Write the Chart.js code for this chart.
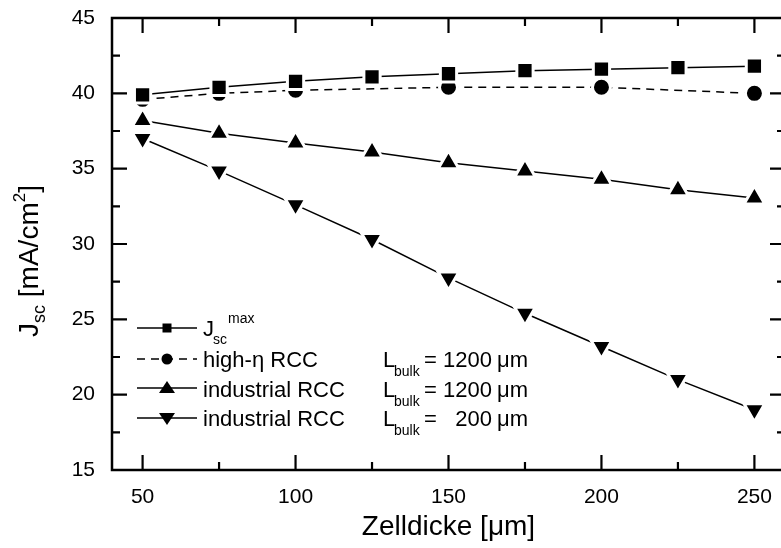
<!DOCTYPE html>
<html>
<head>
<meta charset="utf-8">
<script src="https://cdn.jsdelivr.net/npm/chart.js@4/dist/chart.umd.min.js"></script>
<style>
    html, body { margin: 0; padding: 0; background: #fff; overflow: hidden; }
    #wrap { width: 800px; height: 548px; }
</style>
</head>
<body>
<div id="wrap"><canvas id="chart" width="800" height="548"></canvas></div>
<script>
// ── Data ───────────────────────────────────────
const thickness    = [50, 75, 100, 125, 150, 175, 200, 225, 250];
const jscMax       = [39.9, 40.4, 40.8, 41.1, 41.3, 41.5, 41.6, 41.7, 41.8];
const highEtaX     = [50, 75, 100, 150, 200, 250];
const highEta      = [39.6, 40.0, 40.2, 40.4, 40.4, 40.0];
const ind1200      = [38.2, 37.35, 36.7, 36.1, 35.4, 34.85, 34.3, 33.6, 33.05];
const ind200       = [37.0, 34.85, 32.6, 30.3, 27.75, 25.4, 23.2, 21.0, 19.0];
const xTickVals    = [50, 100, 150, 200, 250];
const yTickVals    = [15, 20, 25, 30, 35, 40, 45];
const xMinorVals   = [75, 125, 175, 225];
const yMinorVals   = [17.5, 22.5, 27.5, 32.5, 37.5, 42.5];

const FONT = "'Liberation Sans', Arial, Helvetica, sans-serif";
const pts = (xs, ys) => xs.map((x, i) => ({ x, y: ys[i] }));

const base = {
    borderColor: '#000', backgroundColor: '#000', borderWidth: 1.5,
    pointBackgroundColor: '#000', pointBorderColor: '#fff', pointBorderWidth: 3,
    fill: false, tension: 0
};

// ── Frame, inward ticks, custom titles & legend ─
const framePlugin = {
    id: 'frame',
    afterDraw(chart) {
        const ctx = chart.ctx;
        const { left, right, top, bottom } = chart.chartArea;
        const xs = chart.scales.x, ys = chart.scales.y;
        ctx.save();
        ctx.strokeStyle = '#000';
        ctx.lineWidth = 2.5;
        ctx.strokeRect(left, top, right - left, bottom - top);

        ctx.lineWidth = 2.2;
        ctx.beginPath();
        const xt = (v, len) => {
            const p = xs.getPixelForValue(v);
            ctx.moveTo(p, bottom); ctx.lineTo(p, bottom - len);
            ctx.moveTo(p, top);    ctx.lineTo(p, top + len);
        };
        const yt = (v, len) => {
            const p = ys.getPixelForValue(v);
            ctx.moveTo(left, p);  ctx.lineTo(left + len, p);
            ctx.moveTo(right, p); ctx.lineTo(right - len, p);
        };
        xTickVals.forEach(v => xt(v, 15));
        xMinorVals.forEach(v => xt(v, 8));
        yTickVals.forEach(v => yt(v, 15));
        yMinorVals.forEach(v => yt(v, 8));
        ctx.stroke();

        // y title: J_sc [mA/cm^2]
        ctx.fillStyle = '#000';
        ctx.translate(38, 261);
        ctx.rotate(-Math.PI / 2);
        ctx.textBaseline = 'alphabetic';
        const parts = [
            { t: 'J', f: 28, dy: 0 },
            { t: 'sc', f: 18, dy: 7 },
            { t: ' [mA/cm', f: 28, dy: 0 },
            { t: '2', f: 17, dy: -13 },
            { t: ']', f: 28, dy: 0 }
        ];
        let w = 0;
        parts.forEach(p => { ctx.font = p.f + 'px ' + FONT; p.w = ctx.measureText(p.t).width; w += p.w; });
        let cx = -w / 2;
        parts.forEach(p => { ctx.font = p.f + 'px ' + FONT; ctx.fillText(p.t, cx, p.dy); cx += p.w; });
        ctx.restore();

        drawLegend(ctx);
    }
};

function legendMarker(ctx, kind, x, y) {
    ctx.beginPath();
    if (kind === 'rect') ctx.rect(x - 4.5, y - 4.5, 9, 9);
    else if (kind === 'circle') ctx.arc(x, y, 5.5, 0, Math.PI * 2);
    else if (kind === 'up') { ctx.moveTo(x, y - 7); ctx.lineTo(x + 8, y + 5); ctx.lineTo(x - 8, y + 5); ctx.closePath(); }
    else { ctx.moveTo(x, y + 7); ctx.lineTo(x + 8, y - 5); ctx.lineTo(x - 8, y - 5); ctx.closePath(); }
    ctx.fill();
}

function drawLegend(ctx) {
    const rows = [
        { kind: 'rect',   dash: [],     y: 328, base: 336, label: null },
        { kind: 'circle', dash: [8, 6], y: 359, base: 367, label: 'high-\u03B7 RCC', L: '1200' },
        { kind: 'up',     dash: [],     y: 388, base: 396.5, label: 'industrial RCC', L: '1200' },
        { kind: 'down',   dash: [],     y: 418, base: 426, label: 'industrial RCC', L: '200' }
    ];
    ctx.save();
    ctx.fillStyle = '#000';
    ctx.strokeStyle = '#000';
    rows.forEach(r => {
        ctx.lineWidth = 1.5;
        ctx.setLineDash(r.dash);
        ctx.beginPath();
        ctx.moveTo(137, r.y); ctx.lineTo(197, r.y);
        ctx.stroke();
        ctx.setLineDash([]);
        legendMarker(ctx, r.kind, 167, r.y);

        ctx.textBaseline = 'alphabetic';
        ctx.textAlign = 'left';
        if (!r.label) {
            ctx.font = '22px ' + FONT;
            ctx.fillText('J', 203, r.base);
            ctx.font = '14px ' + FONT;
            ctx.fillText('sc', 213, r.base + 8);
            ctx.fillText('max', 228, r.base - 13);
            return;
        }
        ctx.font = '22px ' + FONT;
        ctx.fillText(r.label, 203, r.base);
        ctx.fillText('L', 383, r.base);
        ctx.fillText('=', 424, r.base);
        ctx.textAlign = 'right';
        ctx.fillText(r.L, 492, r.base);
        ctx.textAlign = 'left';
        ctx.fillText('\u03BCm', 497, r.base);
        ctx.font = '14px ' + FONT;
        ctx.fillText('bulk', 394, r.base + 9);
    });
    ctx.restore();
}

new Chart(document.getElementById('chart').getContext('2d'), {
    type: 'line',
    data: {
        datasets: [
            { ...base, label: 'Jsc max', data: pts(thickness, jscMax), pointStyle: 'rect', pointRadius: 11.5 },
            { ...base, label: 'high-eta RCC', data: pts(highEtaX, highEta), pointStyle: 'circle', pointRadius: 9, borderDash: [8, 6] },
            { ...base, label: 'industrial RCC 1200', data: pts(thickness, ind1200), pointStyle: 'triangle', pointRadius: 12 },
            { ...base, label: 'industrial RCC 200', data: pts(thickness, ind200), pointStyle: 'triangle', pointRotation: 180, pointRadius: 12 }
        ]
    },
    options: {
        responsive: false,
        animation: false,
        events: [],
        layout: { padding: { left: 0, top: 18, right: 13, bottom: 0 } },
        plugins: { legend: { display: false }, tooltip: { enabled: false } },
        scales: {
            x: {
                type: 'linear', min: 40, max: 260,
                afterBuildTicks: axis => { axis.ticks = xTickVals.map(value => ({ value })); },
                afterFit: axis => { axis.height = 78; axis.paddingLeft = 0; axis.paddingRight = 0; },
                grid: { display: false, drawTicks: false },
                border: { display: false },
                ticks: { color: '#000', font: { family: FONT, size: 21 }, padding: 15, maxRotation: 0 },
                title: { display: true, text: 'Zelldicke [\u03BCm]', color: '#000', font: { family: FONT, size: 28 }, padding: { top: 0, bottom: 4 } }
            },
            y: {
                min: 15, max: 45,
                afterBuildTicks: axis => { axis.ticks = yTickVals.map(value => ({ value })); },
                afterFit: axis => { axis.width = 112; axis.paddingTop = 0; axis.paddingBottom = 0; },
                grid: { display: false, drawTicks: false },
                border: { display: false },
                ticks: { color: '#000', font: { family: FONT, size: 21 }, padding: 17 }
            }
        }
    },
    plugins: [framePlugin]
});
</script>
</body>
</html>
